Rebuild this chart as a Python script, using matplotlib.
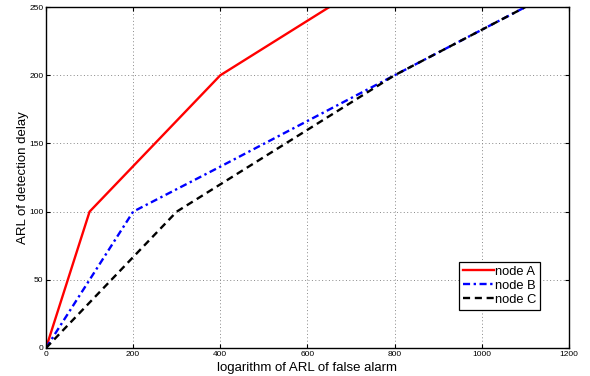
import matplotlib
matplotlib.use("Agg")
import matplotlib.pyplot as plt

plt.rcParams['font.family'] = ['Liberation Sans', 'DejaVu Sans']

xa = [0, 100, 400, 650]
ya = [0, 100, 200, 250]
xb = [0, 200, 400, 800, 1100]
yb = [0, 100, 133, 200, 250]
xc = [0, 300, 400, 800, 1100]
yc = [0, 100, 120, 200, 250]
labels = ['node A', 'node B', 'node C']

fig = plt.figure(figsize=(5.9, 3.76), dpi=100)
ax = fig.add_axes([0.078, 0.0745, 0.886, 0.9065])
ax.plot(xa, ya, color='#ff0000', lw=1.7, ls='-', label=labels[0])
ax.plot(xb, yb, color='#0000ff', lw=1.7, ls=(0, (3, 1.5, 1, 1.5)), label=labels[1])
ax.plot(xc, yc, color='black', lw=1.7, ls=(0, (3, 2)), label=labels[2])

ax.set_xlim(0, 1200)
ax.set_ylim(0, 250)
ax.set_xticks(range(0, 1201, 200))
ax.set_yticks(range(0, 251, 50))
ax.grid(True, ls=(0, (1, 2.5)), color='#888888', lw=0.7)
ax.tick_params(direction='in', top=True, right=True, labelsize=6, length=3, pad=2)
for s in ax.spines.values():
    s.set_linewidth(1.0)
ax.set_xlabel('logarithm of ARL of false alarm', fontsize=9.5, labelpad=3)
ax.set_ylabel('ARL of detection delay', fontsize=9.5, labelpad=0)

leg = ax.legend(loc='lower left', bbox_to_anchor=(0.79, 0.112), fontsize=9.3,
                frameon=True, fancybox=False, framealpha=1, edgecolor='black',
                handlelength=2.4, handletextpad=0.1, borderpad=0.3, labelspacing=0.15,
                borderaxespad=0)
leg.get_frame().set_linewidth(0.9)

fig.savefig('out.png', dpi=100)
